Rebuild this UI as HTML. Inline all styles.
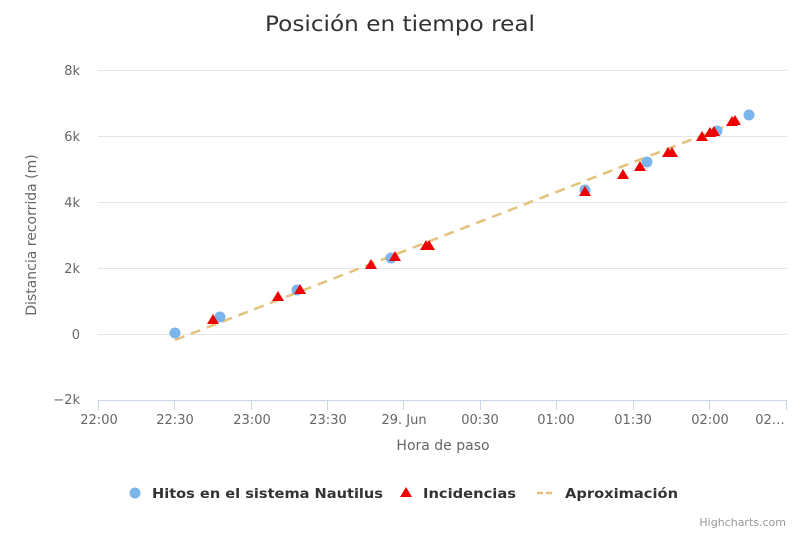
<!DOCTYPE html>
<html><head><meta charset="utf-8"><style>body{margin:0;background:#fff}svg{display:block;font-family:"DejaVu Sans","Liberation Sans",sans-serif}</style></head><body>
<svg width="800" height="533" viewBox="0 0 800 533">
<rect width="800" height="533" fill="#fff"/>
<text x="400" y="31" text-anchor="middle" font-size="21" fill="#333" textLength="270" lengthAdjust="spacingAndGlyphs">Posición en tiempo real</text>
<g stroke="#e6e6e6" stroke-width="1">
<line x1="98" x2="787" y1="70.5" y2="70.5"/><line x1="98" x2="787" y1="136.5" y2="136.5"/><line x1="98" x2="787" y1="202.5" y2="202.5"/><line x1="98" x2="787" y1="268.5" y2="268.5"/><line x1="98" x2="787" y1="334.5" y2="334.5"/>
</g>
<line x1="98" x2="787" y1="400.5" y2="400.5" stroke="#ccd6eb"/>
<g stroke="#ccd6eb"><line x1="98.5" x2="98.5" y1="400" y2="410"/><line x1="174.5" x2="174.5" y1="400" y2="410"/><line x1="251.5" x2="251.5" y1="400" y2="410"/><line x1="327.5" x2="327.5" y1="400" y2="410"/><line x1="403.5" x2="403.5" y1="400" y2="410"/><line x1="480.5" x2="480.5" y1="400" y2="410"/><line x1="556.5" x2="556.5" y1="400" y2="410"/><line x1="633.5" x2="633.5" y1="400" y2="410"/><line x1="709.5" x2="709.5" y1="400" y2="410"/><line x1="786.5" x2="786.5" y1="400" y2="410"/></g>
<g font-size="13" fill="#666" text-anchor="end">
<text x="80" y="75">8k</text><text x="80" y="141">6k</text><text x="80" y="207">4k</text><text x="80" y="273">2k</text><text x="80" y="339">0</text><text x="80" y="404">−2k</text></g>
<g font-size="13" fill="#666" text-anchor="middle">
<text x="99" y="424">22:00</text><text x="175" y="424">22:30</text><text x="252" y="424">23:00</text><text x="328" y="424">23:30</text><text x="404" y="424">29. Jun</text><text x="480" y="424">00:30</text><text x="556" y="424">01:00</text><text x="633" y="424">01:30</text><text x="710" y="424">02:00</text><text x="770" y="424">02…</text></g>
<text x="443" y="450" text-anchor="middle" font-size="14" fill="#666">Hora de paso</text>
<text transform="translate(36,235) rotate(-90)" text-anchor="middle" font-size="14" fill="#666">Distancia recorrida (m)</text>
<line x1="175" y1="340" x2="742" y2="120" stroke="#e4c27a" stroke-width="2.5" stroke-dasharray="10,7"/>
<g fill="#7cb5ec">
<circle cx="175" cy="333" r="5.5"/><circle cx="220" cy="317" r="5.5"/><circle cx="297" cy="290" r="5.5"/><circle cx="391" cy="258" r="5.5"/><circle cx="585" cy="190" r="5.5"/><circle cx="647" cy="162" r="5.5"/><circle cx="717" cy="131" r="5.5"/><circle cx="749" cy="115" r="5.5"/></g>
<g fill="#e00">
<path d="M213 314l6 10h-12z"/><path d="M278 291l6 10h-12z"/><path d="M300 284l6 10h-12z"/><path d="M371 259l6 10h-12z"/><path d="M395 251l6 10h-12z"/><path d="M426 240l6 10h-12z"/><path d="M429 240l6 10h-12z"/><path d="M585 186l6 10h-12z"/><path d="M623 169l6 10h-12z"/><path d="M640 161l6 10h-12z"/><path d="M668 147l6 10h-12z"/><path d="M672 147l6 10h-12z"/><path d="M702 131l6 10h-12z"/><path d="M710 127l6 10h-12z"/><path d="M714 126l6 10h-12z"/><path d="M732 116l6 10h-12z"/><path d="M735 115l6 10h-12z"/></g>
<g font-size="13" font-weight="bold" fill="#333">
<circle cx="135" cy="493" r="5.5" fill="#7cb5ec"/><text x="152" y="498" textLength="231" lengthAdjust="spacingAndGlyphs">Hitos en el sistema Nautilus</text>
<path d="M406 487l6 10h-12z" fill="#e00"/><text x="423" y="498" textLength="93" lengthAdjust="spacingAndGlyphs">Incidencias</text>
<line x1="537" y1="493" x2="553" y2="493" stroke="#e4c27a" stroke-width="2.5" stroke-dasharray="6,3"/><text x="565" y="498" textLength="113" lengthAdjust="spacingAndGlyphs">Aproximación</text></g>
<text x="786" y="526" text-anchor="end" font-size="11" fill="#999">Highcharts.com</text>
</svg>
</body></html>
